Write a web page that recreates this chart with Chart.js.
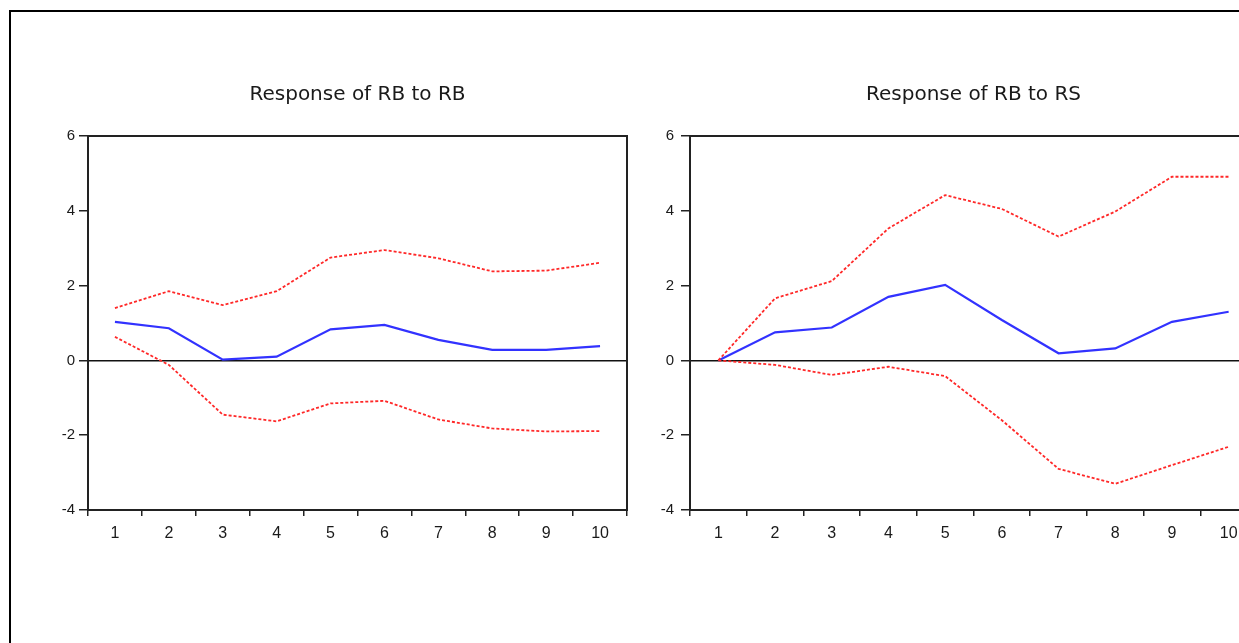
<!DOCTYPE html>
<html>
<head>
<meta charset="utf-8">
<script src="https://cdn.jsdelivr.net/npm/chart.js@4.4.1/dist/chart.umd.min.js"></script>
<style>
  html, body { margin: 0; padding: 0; background: #fff; overflow: hidden; width: 1239px; height: 643px; }
  #frame { position: absolute; left: 9px; top: 10px; width: 1300px; height: 700px; border-left: 2px solid #000; border-top: 2px solid #000; }
  canvas { position: absolute; }
  #c1 { left: 20px; top: 60px; }
  #c2 { left: 640px; top: 60px; }
</style>
</head>
<body>
<div id="frame"></div>
<canvas id="c1" width="620" height="500"></canvas>
<canvas id="c2" width="630" height="500"></canvas>
<script>
const periods = ['1','2','3','4','5','6','7','8','9','10'];
const yTicks = [-4, -2, 0, 2, 4, 6];

const titleRB = 'Response of RB to RB';
const rbIrf   = [1.03, 0.86, 0.02, 0.10, 0.83, 0.95, 0.55, 0.28, 0.28, 0.38];
const rbUpper = [1.40, 1.85, 1.48, 1.85, 2.75, 2.95, 2.73, 2.38, 2.40, 2.61];
const rbLower = [0.63, -0.12, -1.45, -1.63, -1.15, -1.08, -1.58, -1.82, -1.90, -1.89];

const titleRS = 'Response of RB to RS';
const rsIrf   = [0.00, 0.75, 0.88, 1.70, 2.02, 1.08, 0.19, 0.32, 1.03, 1.30];
const rsUpper = [0.00, 1.66, 2.12, 3.53, 4.42, 4.05, 3.31, 3.98, 4.91, 4.91];
const rsLower = [0.00, -0.12, -0.39, -0.17, -0.42, -1.60, -2.90, -3.30, -2.80, -2.31];

const AXIS = '#222';
const BLUE = 'rgb(50,50,255)';
const RED = 'rgb(255,40,40)';

const boxPlugin = {
  id: 'box',
  afterDraw(chart) {
    const a = chart.chartArea, ctx = chart.ctx;
    ctx.save();
    ctx.strokeStyle = AXIS;
    ctx.lineWidth = 2;
    ctx.strokeRect(a.left, a.top, a.right - a.left, a.bottom - a.top);
    ctx.restore();
  }
};

function makeChart(id, title, irf, upper, lower, yAxisWidth, yPad) {
  const red = (d) => ({ data: d, borderColor: RED, borderWidth: 1.8, borderDash: [3, 2], pointRadius: 0, tension: 0, fill: false });
  return new Chart(document.getElementById(id), {
    type: 'line',
    data: {
      labels: periods,
      datasets: [
        red(upper),
        red(lower),
        { data: irf, borderColor: BLUE, borderWidth: 2.2, pointRadius: 0, tension: 0, fill: false }
      ]
    },
    options: {
      responsive: false,
      animation: false,
      events: [],
      layout: { padding: { top: 0, left: 0, bottom: 0, right: 13 } },
      plugins: {
        legend: { display: false },
        tooltip: { enabled: false },
        title: {
          display: true,
          fullSize: false,
          text: title,
          color: '#1a1a1a',
          font: { family: 'DejaVu Sans', size: 20, weight: 'normal' },
          padding: { top: 23, bottom: 29 }
        }
      },
      scales: {
        x: {
          type: 'category',
          offset: true,
          afterFit(s) { s.height = 50; },
          grid: { offset: true, drawOnChartArea: false, tickLength: 6, tickColor: AXIS, lineWidth: 1.5 },
          border: { display: true, color: AXIS, width: 2 },
          ticks: { color: '#1a1a1a', font: { family: 'Liberation Sans', size: 16 }, padding: 8, maxRotation: 0 }
        },
        y: {
          min: yTicks[0],
          max: yTicks[yTicks.length - 1],
          afterFit(s) { s.width = yAxisWidth; },
          afterBuildTicks(s) { s.ticks = yTicks.map(v => ({ value: v })); },
          grid: {
            drawOnChartArea: true,
            color: (c) => (c.tick && c.tick.value === 0) ? '#111' : 'rgba(0,0,0,0)',
            lineWidth: 1.5,
            tickLength: 9,
            tickColor: AXIS
          },
          border: { display: true, color: AXIS, width: 2 },
          ticks: { color: '#1a1a1a', font: { family: 'Liberation Sans', size: 15 }, padding: yPad }
        }
      }
    },
    plugins: [boxPlugin]
  });
}

makeChart('c1', titleRB, rbIrf, rbUpper, rbLower, 68, 4);
makeChart('c2', titleRS, rsIrf, rsUpper, rsLower, 50, 7);
</script>
</body>
</html>
